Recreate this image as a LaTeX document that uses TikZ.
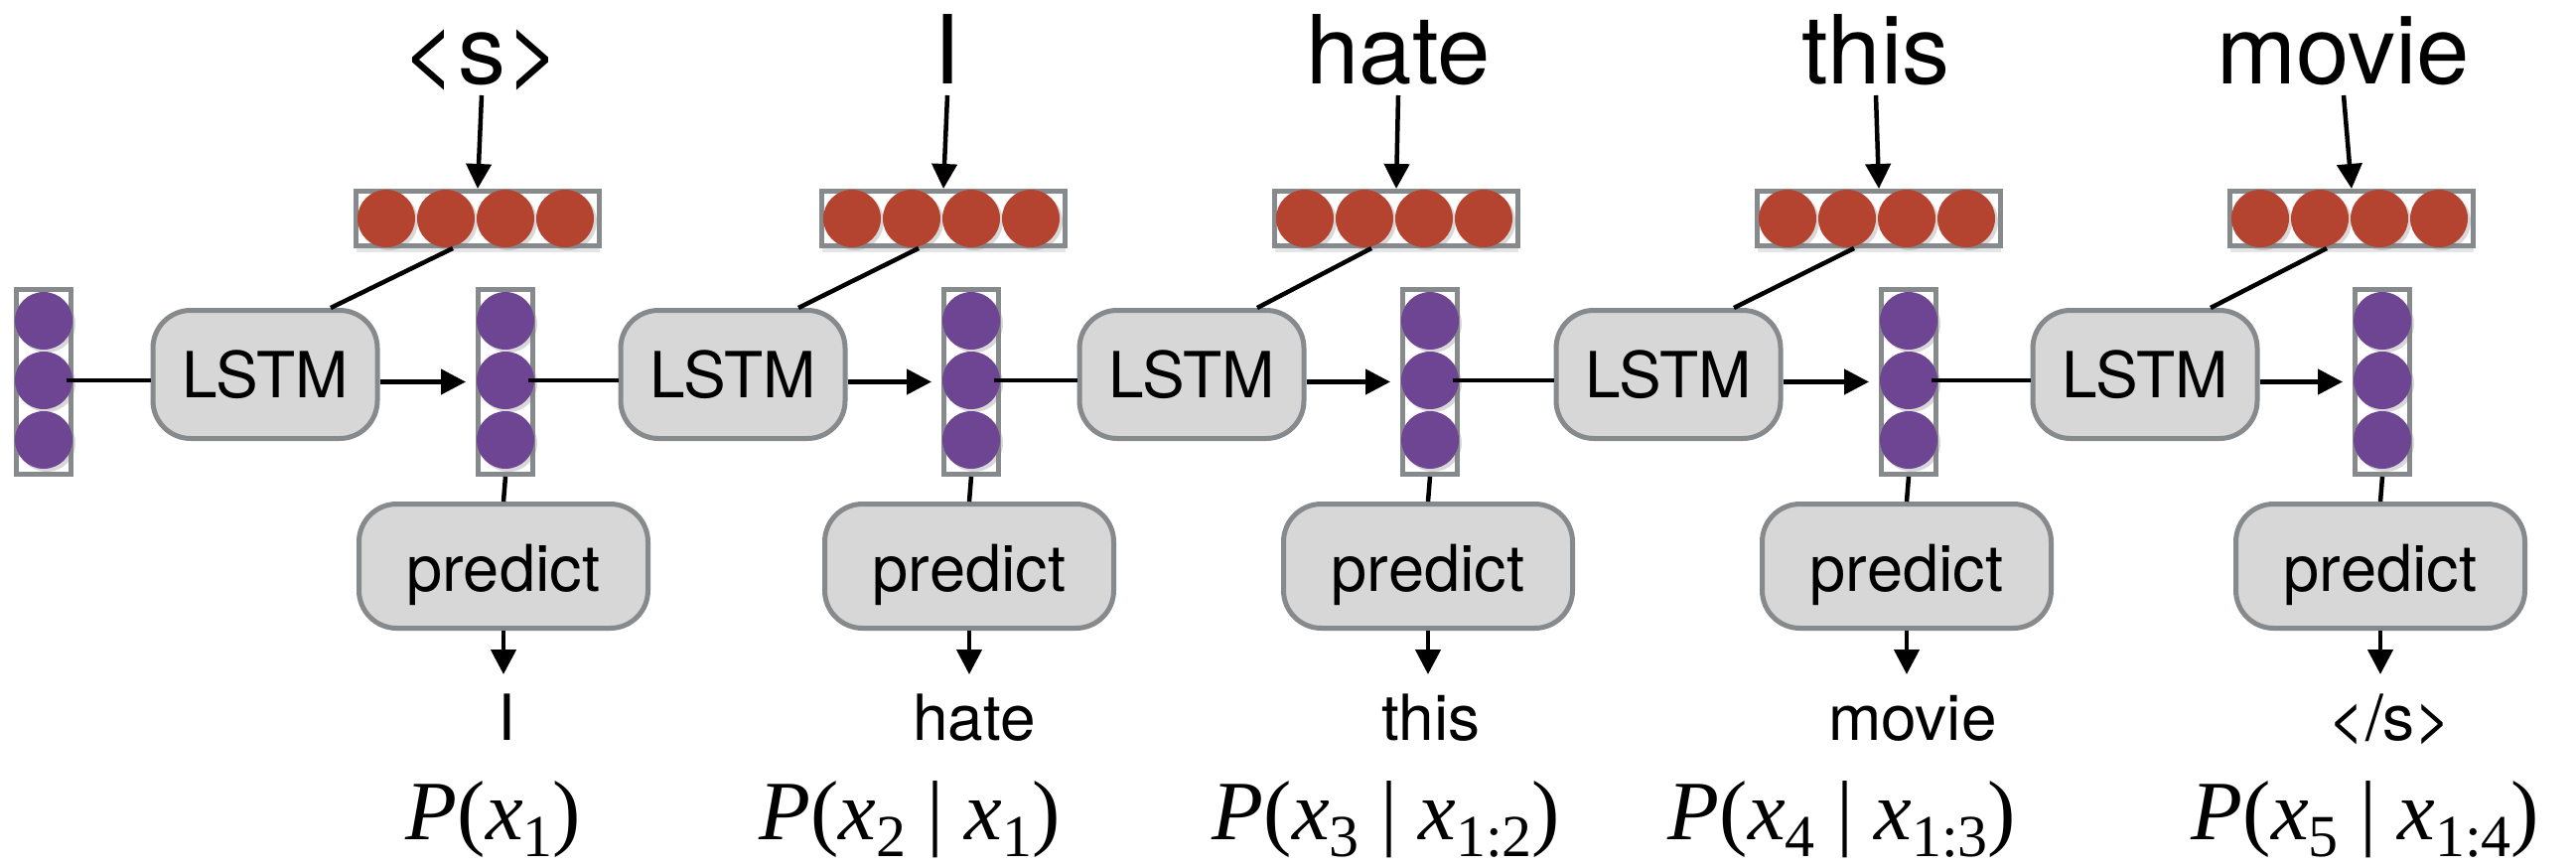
\documentclass[tikz,border=0pt]{standalone}
\usepackage{fontspec}
\setmainfont{TeX Gyre Heros}
\newfontfamily\tms{Liberation Serif}
\usetikzlibrary{arrows.meta,shadows}
\definecolor{purp}{HTML}{6E4593}
\definecolor{redc}{HTML}{B4432F}
\definecolor{bgray}{HTML}{878A8D}
\definecolor{fgray}{HTML}{D7D7D7}
\newcommand{\sbs}[1]{\raisebox{-0.2em}{\fontsize{60}{60}\selectfont #1}}
\newcommand{\mlab}[2]{{\tms\fontsize{85}{90}\selectfont\textit{P}(\textit{x}\sbs{#1}#2)}}
\tikzset{
  vbox/.style={draw=bgray, line width=5pt, fill=white, inner sep=0pt},
  pdot/.style={circle, fill=purp, minimum size=58pt, inner sep=0pt,
    drop shadow={shadow xshift=3pt, shadow yshift=-3pt, opacity=0.3}},
  rdot/.style={circle, fill=redc, minimum size=58pt, inner sep=0pt,
    drop shadow={shadow xshift=3pt, shadow yshift=-3pt, opacity=0.3}},
  pcol/.style={vbox, minimum width=55pt, minimum height=186pt},
  rrow/.style={vbox, minimum width=245pt, minimum height=55pt,
    drop shadow={shadow xshift=0pt, shadow yshift=-6pt, opacity=0.2}},
  proc/.style={draw=bgray, line width=5pt, fill=fgray, rounded corners=38pt, inner sep=0pt},
  lstm/.style={proc, minimum width=226pt, minimum height=129pt,
    font=\fontsize{64}{70}\selectfont, text height=46pt, text depth=0pt},
  pred/.style={proc, minimum width=291pt, minimum height=125pt,
    font=\fontsize{65}{70}\selectfont, text height=50pt, text depth=0pt},
  topword/.style={anchor=base, inner sep=0pt, font=\fontsize{96}{100}\selectfont},
  outword/.style={anchor=base, inner sep=0pt, font=\fontsize{64}{70}\selectfont},
  mathlab/.style={anchor=base, inner sep=0pt},
  conn/.style={line width=4.5pt},
  arr/.style={line width=4.5pt, -{Triangle[length=25pt,width=25pt]}}
}
\begin{document}
\begin{tikzpicture}[x=1pt,y=-1pt]
\useasboundingbox[fill=white] (0,0) rectangle (2594,873);

% hidden-state columns
\foreach \i/\c in {0/44,1/509,2/978,3/1440,4/1922,5/2399}{
  \node[pcol] (h\i) at (\c,384.5) {};
  \node[pdot] (h\i a) at (\c,323) {};
  \node[pdot] (h\i b) at (\c,383) {};
  \node[pdot] (h\i c) at (\c,443) {};
}

% embedding rows
\foreach \i/\r in {1/481,2/950,3/1406,4/1892,5/2368}{
  \node[rrow] (r\i) at (\r,220) {};
  \node[rdot] (r\i a) at (\r-92,220) {};
  \node[rdot] (r\i b) at (\r-32,220) {};
  \node[rdot] (r\i c) at (\r+28,220) {};
  \node[rdot] (r\i d) at (\r+88,220) {};
}

% LSTM boxes
\node[lstm] (L1) at (267,377) {LSTM};
\node[lstm] (L2) at (738,377) {LSTM};
\node[lstm] (L3) at (1200,377) {LSTM};
\node[lstm] (L4) at (1680,377) {LSTM};
\node[lstm] (L5) at (2160,377) {LSTM};

% predict boxes
\node[pred] (p1) at (507,570) {predict};
\node[pred] (p2) at (976,570) {predict};
\node[pred] (p3) at (1438,570) {predict};
\node[pred] (p4) at (1920,570) {predict};
\node[pred] (p5) at (2397,570) {predict};

% input words
\node[topword] (w1) at (485,84) {<s>};
\node[topword] (w2) at (954,84) {I};
\node[topword] (w3) at (1408,84) {hate};
\node[topword] (w4) at (1889,84) {this};
\node[topword] (w5) at (2360,84) {movie};

% output words
\node[outword] (o1) at (510,745) {I};
\node[outword] (o2) at (981,745) {hate};
\node[outword] (o3) at (1441,745) {this};
\node[outword] (o4) at (1926,745) {movie};
\node[outword] (o5) at (2407,745) {</s>};

% probability labels
\node[mathlab] (m1) at (497,845) {\mlab{1}{}};
\node[mathlab] (m2) at (916,845) {\mlab{2}{ | \textit{x}\sbs{1}}};
\node[mathlab] (m3) at (1396,845) {\mlab{3}{ | \textit{x}\sbs{1:2}}};
\node[mathlab] (m4) at (1855,845) {\mlab{4}{ | \textit{x}\sbs{1:3}}};
\node[mathlab] (m5) at (2382,845) {\mlab{5}{ | \textit{x}\sbs{1:4}}};

% arrow tips below predict boxes
\coordinate (t1) at (507,679);
\coordinate (t2) at (976,679);
\coordinate (t3) at (1438,679);
\coordinate (t4) at (1920,679);
\coordinate (t5) at (2397,679);

% connectors
\foreach \i/\j in {1/0,2/1,3/2,4/3,5/4}{
  \draw[conn] ([xshift=-6pt]h\j b.east) -- (L\i.west |- h\j b.east);
  \draw[arr] (L\i.east |- h\i.west) -- ([xshift=-10pt]h\i.west);
  \draw[conn] ([xshift=-25pt]r\i.south) -- ([xshift=66pt]L\i.north);
  \draw[arr] ([yshift=-12pt]w\i.base) -- (r\i.north);
  \draw[conn] (h\i.south) -- (p\i.north);
  \draw[arr] (p\i.south) -- (t\i);
}
\end{tikzpicture}
\end{document}
